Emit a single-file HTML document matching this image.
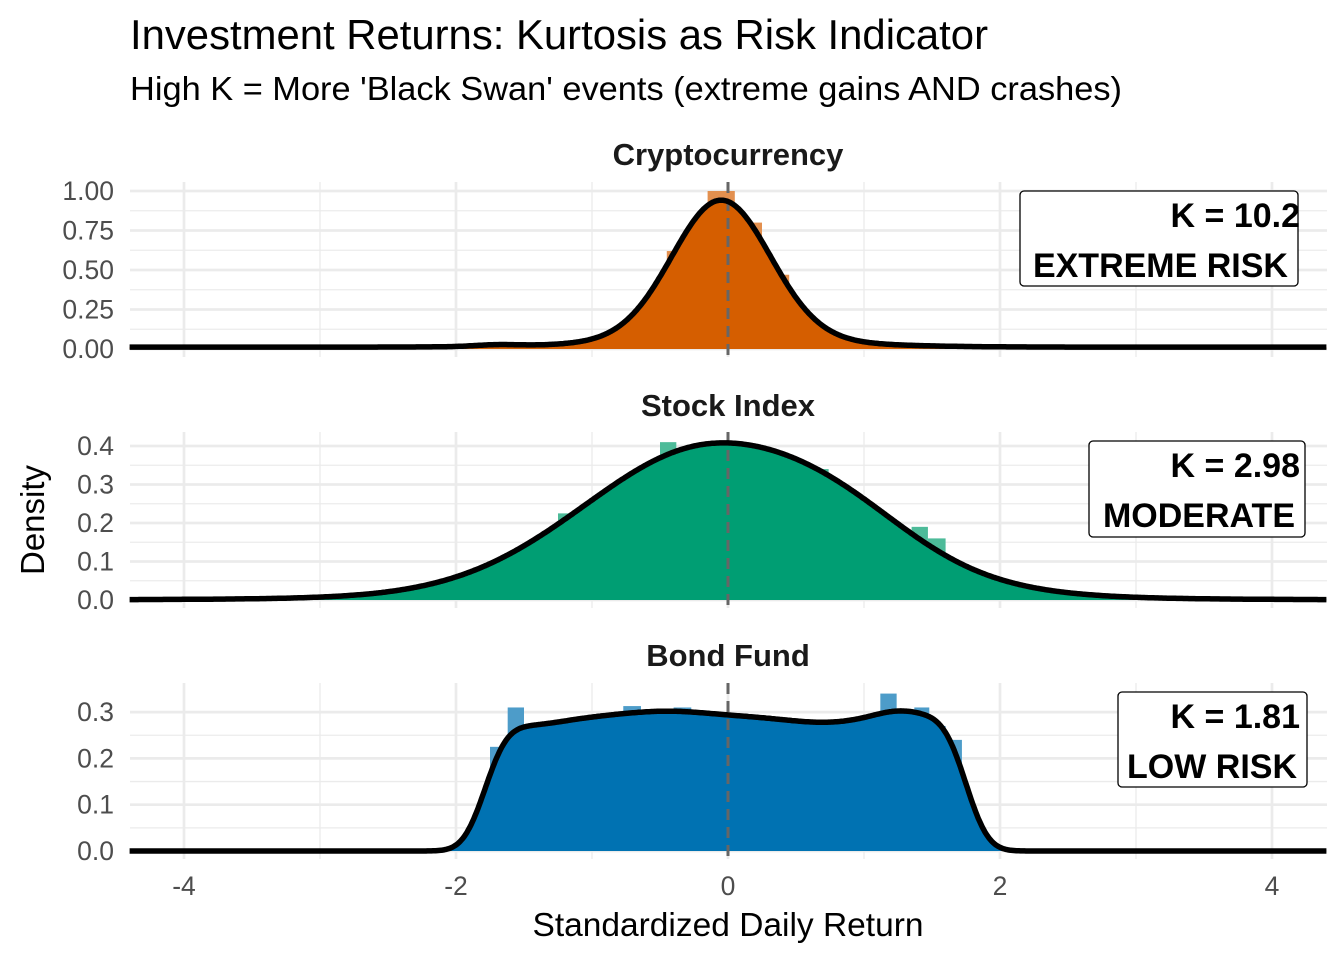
<!DOCTYPE html>
<html><head><meta charset="utf-8"><style>
body{margin:0;background:#fff}
svg text{font-family:"Liberation Sans",Arial,sans-serif}
</style></head><body>
<svg id="s" width="1344" height="960" xmlns="http://www.w3.org/2000/svg">
<text x="130" y="49" font-size="41.5" fill="#000" textLength="858" lengthAdjust="spacingAndGlyphs">Investment Returns: Kurtosis as Risk Indicator</text>
<text x="130" y="100" font-size="33.5" fill="#000" textLength="992" lengthAdjust="spacingAndGlyphs">High K = More 'Black Swan' events (extreme gains AND crashes)</text>
<text x="728" y="165" font-size="31" font-weight="bold" text-anchor="middle" fill="#1a1a1a">Cryptocurrency</text>
<text x="728" y="416" font-size="31" font-weight="bold" text-anchor="middle" fill="#1a1a1a">Stock Index</text>
<text x="728" y="666" font-size="31" font-weight="bold" text-anchor="middle" fill="#1a1a1a">Bond Fund</text>
<text x="728" y="936" font-size="33.5" text-anchor="middle" fill="#000">Standardized Daily Return</text>
<text transform="translate(44,520) rotate(-90)" font-size="33" text-anchor="middle" fill="#000">Density</text>
<g id="g"></g>
</svg>
<script>
const X=v=>728+136*v, NS="http://www.w3.org/2000/svg";
const g=document.getElementById('g');
function el(t,a,txt){const e=document.createElementNS(NS,t);for(const k in a)e.setAttribute(k,a[k]);if(txt!==undefined)e.textContent=txt;g.appendChild(e);return e;}
function erf(x){const s=Math.sign(x);x=Math.abs(x);const t=1/(1+0.3275911*x);return s*(1-(((((1.061405429*t-1.453152027)*t)+1.421413741)*t-0.284496736)*t+0.254829592)*t*Math.exp(-x*x));}
const P=(x,s)=>0.5*(1+erf(x/(s*Math.SQRT2)));
const panels=[
 {top:182,bot:357,y0:349,sc:158,ticks:[[0,'0.00'],[0.25,'0.25'],[0.5,'0.50'],[0.75,'0.75'],[1,'1.00']],col:'#D55E00',lc:'#e3904f',
  f:x=>0.88*Math.exp(-Math.pow(x+0.05,2)/(2*0.36*0.36))+0.05*Math.exp(-Math.pow(x+0.05,2)/(2*0.8*0.8))+0.012+0.01*Math.exp(-Math.pow(x+1.7,2)/0.05),
  bars:[[-0.15,0.05,1.0],[0.05,0.25,0.8],[0.25,0.45,0.47],[-0.45,-0.3,0.62]],
  box:[1020,191,278,95],k:'K = 10.2',lab:'EXTREME RISK'},
 {top:432,bot:608,y0:600,sc:385,ticks:[[0,'0.0'],[0.1,'0.1'],[0.2,'0.2'],[0.3,'0.3'],[0.4,'0.4']],col:'#009E73',lc:'#4dbb99',
  f:x=>{const s=x<-0.1?0.95:1.0;return 0.39*Math.exp(-Math.pow(x+0.1,2)/(2*s*s))+0.04*Math.exp(-Math.pow(x-0.9,2)/(2*0.5*0.5))+0.012*Math.exp(-Math.pow(x,2)/(2*2*2));},
  bars:[[-0.5,-0.38,0.41],[0.6,0.74,0.34],[-1.25,-1.1,0.225],[0.14,0.26,0.39],[1.35,1.47,0.19],[1.47,1.6,0.16]],
  box:[1089,441,216,96],k:'K = 2.98',lab:'MODERATE'},
 {top:683,bot:859,y0:851,sc:463,ticks:[[0,'0.0'],[0.1,'0.1'],[0.2,'0.2'],[0.3,'0.3']],col:'#0072B2',lc:'#4d9cc9',
  f:x=>{const p=0.29+0.012*Math.exp(-Math.pow(x+0.45,2)/0.2)+0.014*Math.exp(-Math.pow(x-1.25,2)/0.06)-0.012*Math.exp(-Math.pow(x-0.7,2)/0.15)-0.018*Math.exp(-Math.pow(x+1.5,2)/0.15);
   return p*(P(x+1.78,0.13)-P(x-1.75,0.13));},
  bars:[[-1.75,-1.62,0.225],[-1.62,-1.5,0.31],[1.12,1.24,0.34],[1.37,1.48,0.31],[1.48,1.6,0.27],[1.6,1.72,0.24],[-0.77,-0.64,0.313],[-0.4,-0.27,0.31]],
  box:[1118,692,189,95],k:'K = 1.81',lab:'LOW RISK'}];
panels.forEach(p=>{
 const Y=v=>p.y0-p.sc*v;
 const st=p.ticks[1][0];
 for(let i=0;i<p.ticks.length-1;i++) el('line',{x1:130,x2:1327,y1:Y(p.ticks[i][0]+st/2),y2:Y(p.ticks[i][0]+st/2),stroke:'#ebebeb','stroke-width':1.3});
 [-3,-1,1,3].forEach(v=>el('line',{x1:X(v),x2:X(v),y1:p.top,y2:p.bot,stroke:'#ebebeb','stroke-width':1.3}));
 p.ticks.forEach(t=>{el('line',{x1:130,x2:1327,y1:Y(t[0]),y2:Y(t[0]),stroke:'#ebebeb','stroke-width':2.7});
  el('text',{x:114,y:Y(t[0])+9,'font-size':26.5,'text-anchor':'end',fill:'#4d4d4d'},t[1]);});
 [-4,-2,0,2,4].forEach(v=>el('line',{x1:X(v),x2:X(v),y1:p.top,y2:p.bot,stroke:'#ebebeb','stroke-width':2.7}));
 p.bars.forEach(b=>el('rect',{x:X(b[0]),y:Y(b[2]),width:X(b[1])-X(b[0]),height:p.sc*b[2],fill:p.lc}));
 let pts=[];for(let x=-4.4;x<=4.4;x+=0.01)pts.push([X(x),Y(p.f(x))]);
 const d=pts.map((q,i)=>(i?'L':'M')+q[0].toFixed(1)+' '+q[1].toFixed(1)).join('');
 el('path',{d:d+'L'+X(4.4)+' '+p.y0+'L'+X(-4.4)+' '+p.y0+'Z',fill:p.col});
 el('line',{x1:728,x2:728,y1:p.top,y2:p.bot,stroke:'#666','stroke-width':3,'stroke-dasharray':'11 7'});
 el('path',{d:d,fill:'none',stroke:'#000','stroke-width':5.5,'stroke-linejoin':'round'});
 const b=p.box;
 el('rect',{x:b[0],y:b[1],width:b[2],height:b[3],rx:4,fill:'#fff',stroke:'#000','stroke-width':1.3});
 el('text',{x:1300,y:b[1]+36,'font-size':34,'font-weight':'bold','text-anchor':'end',fill:'#000'},p.k);
 el('text',{x:b[0]+b[2]-10,y:b[1]+86,'font-size':34,'font-weight':'bold','text-anchor':'end',fill:'#000'},p.lab);
});
[[-4,'-4'],[-2,'-2'],[0,'0'],[2,'2'],[4,'4']].forEach(t=>el('text',{x:X(t[0]),y:895,'font-size':26.5,'text-anchor':'middle',fill:'#4d4d4d'},t[1]));
</script>
</body></html>
